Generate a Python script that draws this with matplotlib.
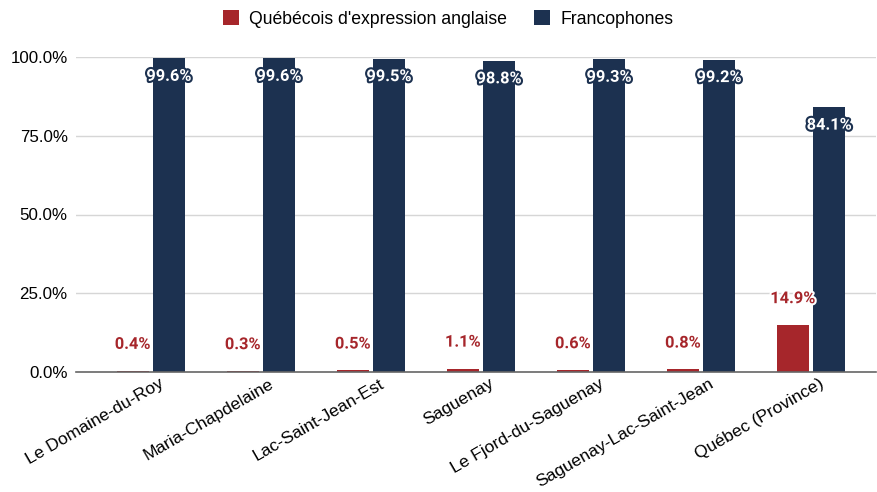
import matplotlib
matplotlib.use("Agg")
import matplotlib.pyplot as plt
import matplotlib.patheffects as pe
import matplotlib.transforms as mtransforms
import numpy as np

regions = ["Le Domaine-du-Roy", "Maria-Chapdelaine", "Lac-Saint-Jean-Est", "Saguenay",
           "Le Fjord-du-Saguenay", "Saguenay-Lac-Saint-Jean", "Québec (Province)"]
anglo = [0.4, 0.3, 0.5, 1.1, 0.6, 0.8, 14.9]
franco = [99.6, 99.6, 99.5, 98.8, 99.3, 99.2, 84.1]
yticks = [0, 25, 50, 75, 100]

RED = "#a6262b"
NAVY = "#1c3150"

fig = plt.figure(figsize=(8.77, 4.92), dpi=100)
ax = fig.add_axes([76 / 877, 1 - 372 / 492, 800 / 877, 315 / 492])

x = np.arange(len(regions))
w = 0.29
off = 0.165
ax.bar(x - off, anglo, w, color=RED, label="Québécois d'expression anglaise", zorder=3)
ax.bar(x + off, franco, w, color=NAVY, label="Francophones", zorder=3)

lab_font = dict(family=["Roboto", "DejaVu Sans"], fontsize=11.8, fontweight="bold")
for xi, v in zip(x, anglo):
    ax.annotate(f"{v:.1f}%", (xi - off, v), xytext=(0, 19), textcoords="offset points",
                ha="center", va="center", color=RED, zorder=5,
                path_effects=[pe.withStroke(linewidth=3, foreground="white")], **lab_font)
for xi, v in zip(x, franco):
    ax.annotate(f"{v:.1f}%", (xi + off, v), xytext=(0, -13), textcoords="offset points",
                ha="center", va="center", color="white", zorder=5,
                path_effects=[pe.withStroke(linewidth=3, foreground=NAVY)], **lab_font)

ax.set_xlim(-0.68, 6.59)
ax.set_ylim(0, 100)
ax.set_yticks(yticks)
ax.set_yticklabels([f"{t:.1f}%" for t in yticks], family="Liberation Sans", fontsize=12.2)
ax.set_xticks(x)
ax.set_xticklabels(regions, rotation=30, ha="right", rotation_mode="anchor",
                   family="Liberation Sans", fontsize=12.6)
ax.tick_params(length=0, pad=6)
ax.tick_params(axis="x", pad=8)
shift = mtransforms.ScaledTranslation(8 / 100, 7 / 100, fig.dpi_scale_trans)
for t in ax.get_xticklabels():
    t.set_transform(t.get_transform() + shift)

ax.grid(axis="y", color="#d6d6d6", linewidth=1, zorder=0)
for s in ["top", "right", "left"]:
    ax.spines[s].set_visible(False)
ax.spines["bottom"].set_color("#666666")
ax.spines["bottom"].set_linewidth(1.2)
ax.spines["bottom"].set_zorder(4)

fig.legend(loc="center", bbox_to_anchor=(448 / 877, 1 - 19 / 492), ncol=2, frameon=False,
           prop={"family": "Liberation Sans", "size": 12.7}, handlelength=0.9, handleheight=0.9,
           columnspacing=1.5, handletextpad=0.6)

fig.savefig("out.png", dpi=100)
